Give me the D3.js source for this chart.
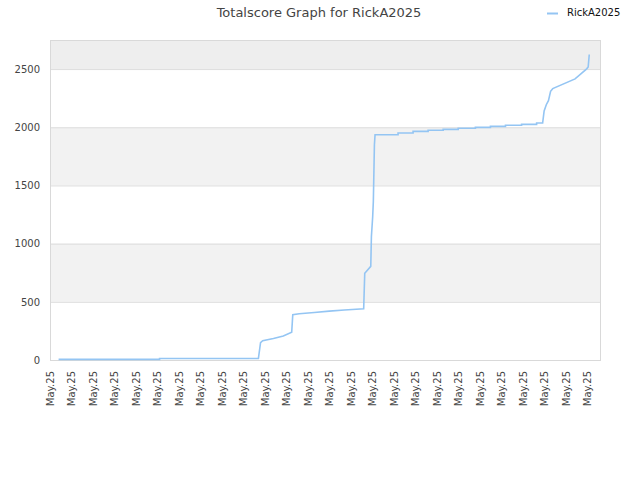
<!DOCTYPE html>
<html>
<head>
<meta charset="utf-8">
<script src="https://cdn.jsdelivr.net/npm/d3@7"></script>
<style>
  body { margin: 0; background: #fff; }
  text { font-family: "DejaVu Sans", sans-serif; }
</style>
</head>
<body>
<div id="graph"></div>
<script>
// score history, x = sample index, y = total score
var sampleIdx = [4, 51, 51, 97, 98, 99, 104, 108.6, 112.5, 113, 116, 123, 130, 137, 146,
  146.5, 149.3, 149.6, 150.2, 150.5, 151, 151.3,
  162, 162, 169, 169, 176, 176, 183, 183, 190, 190, 198, 198, 205, 205, 212, 212, 219.5, 219.5, 226.5, 226.5, 229.3,
  230, 231, 232, 233, 234, 244.4, 249.8, 250.5, 251]
var scores = [5, 5, 13, 13, 150, 166, 185, 206, 238, 390, 398, 408, 420, 430, 441,
  745, 805, 1061, 1233, 1362, 1850, 1936,
  1936, 1951, 1951, 1965, 1965, 1974, 1974, 1982, 1982, 1991, 1991, 1999, 1999, 2008, 2008, 2017, 2017, 2025, 2025, 2037, 2037,
  2140, 2194, 2229, 2309, 2332, 2416, 2502, 2519, 2625]
var tickIdx = d3.range(0, 251, 10)
var tickLabels = tickIdx.map(() => "May.25")
var yTicks = [0, 500, 1000, 1500, 2000, 2500]
var userName = "RickA2025"

var w = 640, h = 480
var m = {left: 50, right: 40, top: 40, bottom: 120}

var svg = d3.select('#graph')
  .append('svg')
  .attr("width", w)
  .attr("height", h)

var x = d3.scaleLinear().domain([0, 256]).range([m.left, w - m.right])
var y = d3.scaleLinear().domain([0, 2750]).range([h - m.bottom, m.top])

// alternating bands
var bands = [[500, 1000, "#f2f2f2"], [1500, 2000, "#f2f2f2"], [2500, 2750, "#eeeeee"]]
svg.append("g").selectAll("rect")
  .data(bands)
  .enter()
  .append("rect")
  .attr("x", x(0))
  .attr("width", x(256) - x(0))
  .attr("y", d => y(d[1]))
  .attr("height", d => y(d[0]) - y(d[1]))
  .style("fill", d => d[2])

// grid
svg.append("g").selectAll("line")
  .data(yTicks)
  .enter()
  .append("line")
  .attr("x1", x(0)).attr("x2", x(256))
  .attr("y1", d => y(d) + .5).attr("y2", d => y(d) + .5)
  .style("stroke", "#dddddd")

svg.append("rect")
  .attr("x", x(0) + .5).attr("y", y(2750) + .5)
  .attr("width", x(256) - x(0)).attr("height", y(0) - y(2750))
  .style("fill", "none")
  .style("stroke", "#d9d9d9")

// y axis labels
var yAxis = svg.append("g")
  .attr("transform", "translate(" + (m.left - 10) + ",0)")
  .call(d3.axisLeft(y).tickValues(yTicks).tickSize(0).tickFormat(d3.format("d")))
yAxis.select(".domain").remove()
yAxis.selectAll("text")
  .attr("x", 0)
  .style("font-size", "10px")
  .style("fill", "#444")

// x axis labels
var xAxis = svg.append("g")
  .attr("transform", "translate(0," + (h - m.bottom) + ")")
  .call(d3.axisBottom(x).tickValues(tickIdx).tickSize(0).tickFormat((d, i) => tickLabels[i]))
xAxis.select(".domain").remove()
xAxis.selectAll("text")
  .attr("transform", "rotate(-90)")
  .attr("x", -11)
  .attr("y", 0)
  .attr("dy", "0.35em")
  .style("text-anchor", "end")
  .style("font-size", "10px")
  .style("fill", "#444")

// score line
var pts = sampleIdx.map((s, i) => [s, scores[i]])
svg.append("path")
  .datum(pts)
  .attr("d", d3.line().x(d => x(d[0])).y(d => y(d[1])))
  .style("fill", "none")
  .style("stroke", "#94c5f3")
  .style("stroke-width", 1.6)

// title
svg.append("text")
  .attr("x", 319).attr("y", 17)
  .attr("text-anchor", "middle")
  .style("font-size", "13px")
  .style("fill", "#444")
  .text("Totalscore Graph for " + userName)

// legend
svg.append("line")
  .attr("x1", 547).attr("x2", 558)
  .attr("y1", 13.5).attr("y2", 13.5)
  .style("stroke", "#94c5f3")
  .style("stroke-width", 2)
svg.append("text")
  .attr("x", 567).attr("y", 16)
  .style("font-size", "10px")
  .style("fill", "#111")
  .text(userName)
</script>
</body>
</html>
